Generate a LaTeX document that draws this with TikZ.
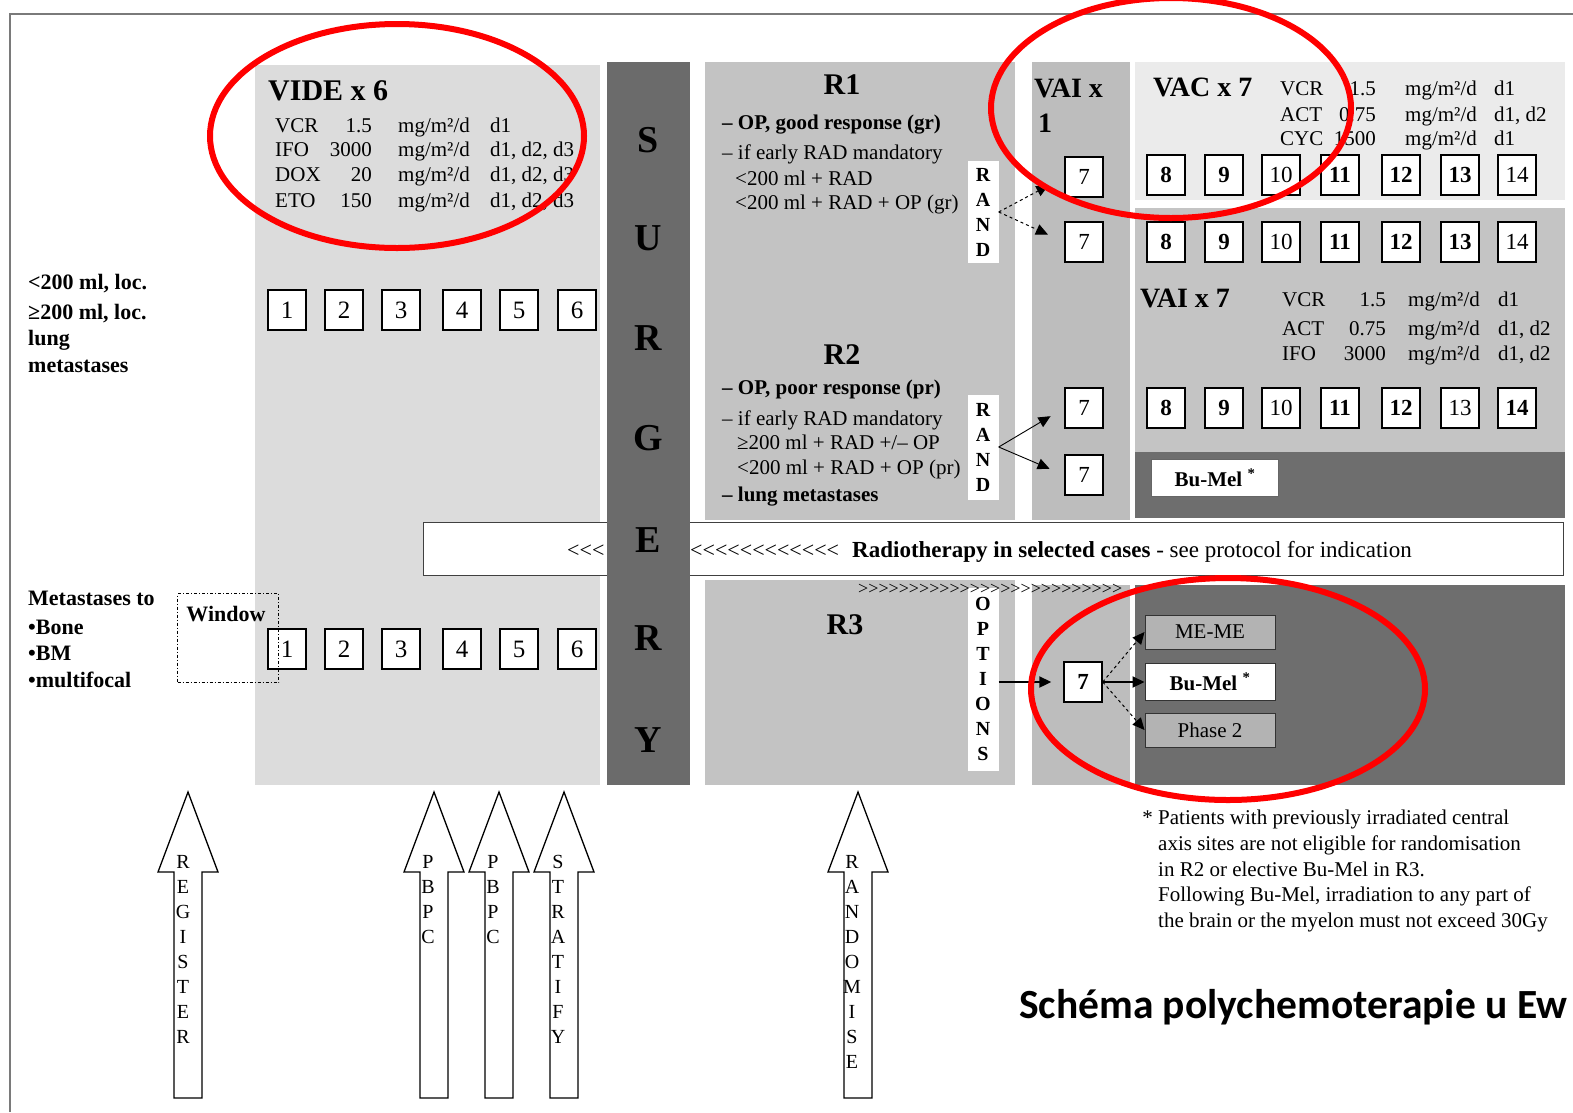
\documentclass[tikz,border=0pt]{standalone}
\usepackage{fontspec}
\setmainfont{Liberation Serif}
\newfontfamily\titlefont{Carlito}
\usetikzlibrary{arrows.meta}
\definecolor{videgray}{HTML}{DCDCDC}
\definecolor{surggray}{HTML}{6B6B6B}
\definecolor{rgray}{HTML}{C3C3C3}
\definecolor{vaicol}{HTML}{BDBDBD}
\definecolor{vaclight}{HTML}{EBEBEB}
\definecolor{vaiseven}{HTML}{C4C4C4}
\definecolor{darkarea}{HTML}{6E6E6E}
\definecolor{optgray}{HTML}{B3B3B3}
\definecolor{framegray}{HTML}{7A7A7A}

\newcommand{\drugrow}[8]{%
  \node[bodytxt] (dn#5) at (#1,#5) {#6};
  \node[bodytxt, anchor=base east] (dq#5) at (#2,#5) {#7};
  \node[bodytxt] (dm#5) at (#3,#5) {mg/m²/d};
  \node[bodytxt] (dd#5) at (#4,#5) {#8};}

\newcommand{\bigup}[1]{%
  \draw[line width=1.3pt, fill=white] (#1-14,1098) -- (#1-14,872) -- (#1-30,872) -- (#1,792) -- (#1+30,872) -- (#1+14,872) -- (#1+14,1098) -- cycle;}

\begin{document}
\begin{tikzpicture}[x=1pt,y=-1pt,
  every node/.style={inner sep=0pt},
  bodytxt/.style={anchor=base west, font=\fontsize{21}{25}\selectfont},
  bodyb/.style={anchor=base west, font=\fontsize{21}{25}\selectfont\bfseries},
  headtext/.style={font=\fontsize{30}{35}\selectfont\bfseries},
  headw/.style={anchor=base west, font=\fontsize{28}{30}\selectfont\bfseries},
  lefttext/.style={anchor=base west, font=\fontsize{22}{26}\selectfont\bfseries},
  numbox/.style={draw=black, line width=1.4pt, fill=white, minimum width=38pt, minimum height=40pt, font=\fontsize{25}{25}\selectfont},
  smallbox/.style={numbox, font=\fontsize{23}{23}\selectfont},
  randstrip/.style={fill=white, minimum width=31pt, align=center, font=\fontsize{20}{25}\selectfont\bfseries},
  optbox/.style={draw=black!80, line width=1pt, minimum width=130pt, minimum height=34pt, font=\fontsize{21}{21}\selectfont},
  arrowletters/.style={anchor=north, align=center, font=\fontsize{20}{25}\selectfont},
  surgletter/.style={font=\fontsize{38}{38}\selectfont\bfseries},
  arrowtip/.style={-{Triangle[length=12pt,width=11pt]}},
  redring/.style={draw=red, line width=6pt},
]
\useasboundingbox (0,0) rectangle (1573,1112);
\fill[white] (0,0) rectangle (1573,1112);
\draw[framegray, line width=2pt] (10,1112) -- (10,14) -- (1573,14);

% panels
\fill[videgray] (255,65) rectangle (600,785);
\fill[rgray] (705,62) rectangle (1015,520);
\fill[rgray] (705,580) rectangle (1015,785);
\fill[vaicol] (1032,62) rectangle (1130,520);
\fill[vaicol] (1032,585) rectangle (1130,785);
\fill[vaclight] (1135,62) rectangle (1565,200);
\fill[vaiseven] (1135,208) rectangle (1565,452);
\fill[darkarea] (1135,452) rectangle (1565,518);
\fill[darkarea] (1135,585) rectangle (1565,785);

% radiotherapy bar
\node[draw=black!75, line width=1.2pt, fill=white, minimum width=1140pt, minimum height=53pt, anchor=north west] (rtbar) at (423,522) {};

% surgery band
\fill[surggray] (607,62) rectangle (690,785);
\foreach \ltr/\y [count=\i] in {S/140,U/238,R/338,G/438,E/540,R/638,Y/740}
  \node[surgletter] (surg\i) at (648,\y) {\ltr};

% bar texts
\node[anchor=base west, font=\fontsize{22}{22}\selectfont] (lta) at (567,557) {<{}<{}<};
\node[anchor=base west, font=\fontsize{22}{22}\selectfont] (ltb) at (690,557) {<{}<{}<{}<{}<{}<{}<{}<{}<{}<{}<{}<};
\node[anchor=base west, font=\fontsize{23}{23}\selectfont] (rttext) at (852,557) {\textbf{Radiotherapy in selected cases} - see protocol for indication};

% VIDE
\node[headtext, anchor=base west] (vide) at (268,100) {VIDE x 6};
\drugrow{275}{372}{398}{490}{132}{VCR}{1.5}{d1}
\drugrow{275}{372}{398}{490}{156}{IFO}{3000}{d1, d2, d3}
\drugrow{275}{372}{398}{490}{181}{DOX}{20}{d1, d2, d3}
\drugrow{275}{372}{398}{490}{207}{ETO}{150}{d1, d2, d3}

\foreach \n/\x in {1/287,2/344,3/401,4/462,5/519,6/577} {
  \node[numbox] (ta\n) at (\x,310) {\n};
  \node[numbox] (tb\n) at (\x,649) {\n};
}

% R1
\node[headtext] (r1) at (842,85) {R1};
\node[bodyb] (r1a) at (722,129) {– OP, good response (gr)};
\node[bodytxt] (r1b) at (722,159) {– if early RAD mandatory};
\node[bodytxt] (r1c) at (735,185) {<200 ml + RAD};
\node[bodytxt] (r1d) at (735,209) {<200 ml + RAD + OP (gr)};

% R2
\node[headtext] (r2) at (842,355) {R2};
\node[bodyb] (r2a) at (722,394) {– OP, poor response (pr)};
\node[bodytxt] (r2b) at (722,425) {– if early RAD mandatory};
\node[bodytxt] (r2c) at (737,449) {≥200 ml + RAD +/– OP};
\node[bodytxt] (r2d) at (737,474) {<200 ml + RAD + OP (pr)};
\node[bodyb] (r2e) at (722,501) {– lung metastases};

% R3
\node[headtext] (r3) at (845,625) {R3};

% VAI x 1
\node[headw] (vaia) at (1034,97) {VAI x};
\node[headw] (vaib) at (1038,132) {1};

% VAC x 7
\node[headw] (vac) at (1153,96) {VAC x 7};
\drugrow{1280}{1376}{1405}{1494}{95}{VCR}{1.5}{d1}
\drugrow{1280}{1376}{1405}{1494}{121}{ACT}{0.75}{d1, d2}
\drugrow{1280}{1376}{1405}{1494}{145}{CYC}{1500}{d1}

% VAI x 7
\node[headw] (vaiseven) at (1140,307) {VAI x 7};
\drugrow{1282}{1386}{1408}{1498}{306}{VCR}{1.5}{d1}
\drugrow{1282}{1386}{1408}{1498}{335}{ACT}{0.75}{d1, d2}
\drugrow{1282}{1386}{1408}{1498}{360}{IFO}{3000}{d1, d2}

% boxes 7
\node[smallbox] (s7a) at (1084,177) {7};
\node[smallbox] (s7b) at (1084,242) {7};
\node[smallbox] (s7c) at (1084,408) {7};
\node[smallbox] (s7d) at (1084,475) {7};
\node[smallbox] (s7e) at (1083,682) {\bfseries 7};

% boxes 8-14
\foreach \n/\x/\fw in {8/1166/\bfseries, 9/1224/\bfseries, 10/1281/\mdseries, 11/1340/\bfseries, 12/1401/\bfseries, 13/1460/\bfseries, 14/1517/\mdseries} {
  \node[smallbox] (ra\n) at (\x,175) {\fw\n};
  \node[smallbox] (rb\n) at (\x,242) {\fw\n};
}
\foreach \n/\x/\fw in {8/1166/\bfseries, 9/1224/\bfseries, 10/1281/\mdseries, 11/1340/\bfseries, 12/1401/\bfseries, 13/1460/\mdseries, 14/1517/\bfseries}
  \node[smallbox] (rc\n) at (\x,408) {\fw\n};

% Bu-Mel in R2 row
\node[draw=black!60, line width=0.8pt, fill=white, minimum width=127pt, minimum height=37pt, font=\fontsize{21}{21}\selectfont\bfseries] (bumela) at (1215,478) {Bu-Mel \textsuperscript{*}};

% strips
\node[randstrip, minimum height=102pt] (randa) at (983,212) {R\\A\\N\\D};
\node[randstrip, minimum height=105pt] (randb) at (983,447) {R\\A\\N\\D};
\node[randstrip, minimum height=183pt] (opts) at (983,679) {O\\P\\T\\I\\O\\N\\S};

\node[anchor=base west, font=\fontsize{18}{18}\selectfont] (chev) at (858,594) {>{}>{}>{}>{}>{}>{}>{}>{}>{}>{}>{}>{}>{}>{}>{}>{}>{}>{}>{}>{}>{}>{}>{}>{}>{}>};

% R3 options
\node[optbox, fill=optgray] (meme) at (1210,632) {ME-ME};
\node[optbox, fill=white, minimum height=37pt, font=\fontsize{21}{21}\selectfont\bfseries] (bumelb) at (1210,682) {Bu-Mel \textsuperscript{*}};
\node[optbox, fill=optgray] (phase) at (1210,730) {Phase 2};

% connectors
\draw[dashed, line width=1pt, arrowtip, shorten >=18pt] (randa.east) -- (s7a.west);
\draw[dashed, line width=1pt, arrowtip, shorten >=18pt] (randa.east) -- (s7b.west);
\draw[line width=0.9pt, arrowtip, shorten >=16pt] (randb.east) -- (s7c.west);
\draw[line width=0.9pt, arrowtip, shorten >=16pt] (randb.east) -- (s7d.west);
\draw[line width=2pt, arrowtip, shorten >=12pt] (s7e.west -| opts.east) -- (s7e.west);
\draw[dashed, line width=1pt, arrowtip] (s7e.east) -- (meme.west);
\draw[line width=2pt, arrowtip] (s7e.east) -- (bumelb.west);
\draw[dashed, line width=1pt, arrowtip] (s7e.east) -- (phase.west);

% left labels
\node[lefttext] (la) at (28,289) {<200 ml, loc.};
\node[lefttext] (lb) at (28,319) {≥200 ml, loc.};
\node[lefttext] (lc) at (28,345) {lung};
\node[lefttext] (ld) at (28,372) {metastases};
\node[lefttext] (le) at (28,605) {Metastases to};
\node[lefttext] (lf) at (28,634) {•Bone};
\node[lefttext] (lg) at (28,660) {•BM};
\node[lefttext] (lh) at (28,687) {•multifocal};

% window
\node[draw, line width=1.3pt, dash pattern=on 3pt off 2pt on 1pt off 2pt, minimum width=101pt, minimum height=89pt, anchor=north west] (window) at (177,593) {};
\node[font=\fontsize{22}{22}\selectfont\bfseries] (wintext) at (226,614) {Window};

% bottom arrows
\bigup{188}
\bigup{434}
\bigup{499}
\bigup{564}
\bigup{858}
\node[arrowletters] (reg) at (183,855) {R\\E\\G\\I\\S\\T\\E\\R};
\node[arrowletters] (pbpca) at (428,855) {P\\B\\P\\C};
\node[arrowletters] (pbpcb) at (493,855) {P\\B\\P\\C};
\node[arrowletters] (strat) at (558,855) {S\\T\\R\\A\\T\\I\\F\\Y};
\node[arrowletters] (rand) at (852,855) {R\\A\\N\\D\\O\\M\\I\\S\\E};

% footnote
\node[anchor=north west, align=left, font=\fontsize{21}{25.7}\selectfont] (foot) at (1158,810) {\llap{* }Patients with previously irradiated central\\axis sites are not eligible for randomisation\\in R2 or elective Bu-Mel in R3.\\Following Bu-Mel, irradiation to any part of\\the brain or the myelon must not exceed 30Gy};

% title
\node[anchor=base west, font=\titlefont\fontsize{41.5}{41.5}\selectfont\bfseries] (title) at (1019,1018) {Schéma polychemoterapie u Ew};

% red ellipses
\draw[redring] (397,136) ellipse [x radius=187, y radius=112];
\draw[redring] (1171,108) ellipse [x radius=180, y radius=110];
\draw[redring] (1228,689) ellipse [x radius=197, y radius=111];
\end{tikzpicture}
\end{document}
